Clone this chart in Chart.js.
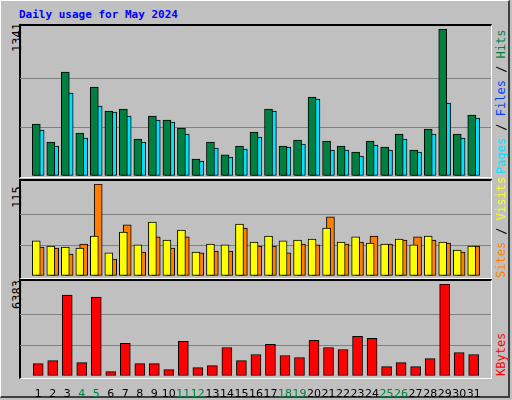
<!DOCTYPE html>
<html><head><meta charset="utf-8">
<script src="https://cdn.jsdelivr.net/npm/chart.js@4/dist/chart.umd.min.js"></script>
<style>
body{margin:0;background:#fff}
#root{position:relative;width:512px;height:400px;background:#c0c0c0;overflow:hidden;font-family:"DejaVu Sans Mono",monospace}
.frame{position:absolute;left:0;top:0;width:510px;height:398px;border-right:2px solid #404040;border-bottom:2px solid #404040;box-sizing:border-box;border-top:1px solid #fff;border-left:1px solid #fff}
.panel{position:absolute;left:19px;width:473px;box-sizing:border-box;border-top:2px solid #000;border-left:2px solid #000;border-right:1px solid #fff;border-bottom:1px solid #fff}
canvas{position:absolute}
.v{position:absolute;transform-origin:0 0;transform:rotate(-90deg);white-space:nowrap;font-size:12px}
#title{position:absolute;left:19px;top:8px;color:#0000ff;font-weight:bold;font-size:11px}
</style></head><body>
<div id="root">
<div class="frame"></div>
<div id="title">Daily usage for May 2024</div>
<div class="panel" style="top:24px;height:154px"></div>
<div class="panel" style="top:179px;height:100px"></div>
<div class="panel" style="top:279px;height:100px"></div>
<div class="v" style="left:10px;top:52px;color:#000">1341</div>
<div class="v" style="left:10px;top:208px;color:#000">115</div>
<div class="v" style="left:10px;top:309px;color:#000">6383</div>
<div class="v" style="left:494px;top:174px"><span style="color:#00e0ff">Pages</span> / <span style="color:#0040ff">Files</span> / <span style="color:#008040">Hits</span></div>
<div class="v" style="left:494px;top:278px"><span style="color:#ff8000">Sites</span> / <span style="color:#ffff00">Visits</span></div>
<div class="v" style="left:494px;top:376px"><span style="color:#ff0000">KBytes</span></div>
<canvas id="c1" style="left:20px;top:29px" width="471" height="147"></canvas>
<canvas id="c2" style="left:20px;top:184px" width="471" height="92"></canvas>
<canvas id="c3" style="left:20px;top:284px" width="471" height="116"></canvas>
</div>
<script>
const days=[1,2,3,4,5,6,7,8,9,10,11,12,13,14,15,16,17,18,19,20,21,22,23,24,25,26,27,28,29,30,31];
const weekend=[4,5,11,12,18,19,25,26];
const hits=[474,310,949,392,812,593,611,337,547,511,438,155,310,192,274,401,611,274,328,720,319,274,219,319,264,383,237,429,1341,383,556];
const files=[420,274,757,347,638,584,547,310,511,492,383,137,255,173,246,356,593,264,292,702,237,237,182,283,237,337,219,383,666,347,529];
const pages=[46,46,210,36,146,18,82,46,36,46,91,18,36,36,36,46,36,27,64,36,91,46,64,64,46,46,36,64,55,46,27];
const visits=[44,37.5,36,35,50,29,55,39,67.5,45,57.5,30,40,39,65,42.5,50,44,45,46,60,42.5,49,41,40,46,39,50,42.5,32.5,37.5];
const sites=[36,35,27.5,40,115,21,64,30,49,35,49,29,31,31,60,37.5,37.5,29,40,39,74,40,42.5,50,40,45,49,45,41,30,37.5];
const kbytes=[862,1072,5614,932,5474,303,2260,862,862,443,2400,583,722,1980,1072,1491,2190,1421,1281,2470,1980,1840,2749,2609,652,932,652,1211,6383,1631,1491];
const maxes={top:1341,mid:115,bot:6383};

function ds(vals,off,color,w){return {data:days.map((d,i)=>({x:d+off,y:vals[i]})),backgroundColor:color,borderColor:'#000',borderWidth:1,barThickness:w,borderSkipped:false,grouped:false};}
function opts(max,showX){return {responsive:false,animation:false,events:[],layout:{padding:0},
 plugins:{legend:{display:false},tooltip:{enabled:false}},
 scales:{x:{type:'linear',min:0.27,max:31.67,display:showX,grid:{display:false},border:{display:false},
   afterBuildTicks:a=>{a.ticks=days.map(v=>({value:v}));},
   afterFit:a=>{a.height=showX?24:0;},
   ticks:{autoSkip:false,maxRotation:0,padding:4,font:{family:'DejaVu Sans',size:11},
     color:c=>weekend.includes(c.tick.value)?'#008040':'#000',callback:v=>String(v)}},
  y:{min:0,max:max,afterFit:a=>{a.width=0;},ticks:{display:false,stepSize:max/3},border:{display:false},
   grid:{color:c=>c.tick.value>0&&c.tick.value<max-1e-6?'#808080':'rgba(0,0,0,0)',lineWidth:1,drawTicks:false}}}};}
new Chart(document.getElementById('c1'),{type:'bar',data:{datasets:[ds(hits,-0.133,'#008040',8),ds(files,0.133,'#00e0ff',8),ds(pages,-0.2,'#0040ff',2)]},options:opts(maxes.top,false)});
new Chart(document.getElementById('c2'),{type:'bar',data:{datasets:[ds(visits,-0.133,'#ffff00',8),ds(sites,0.133,'#ff8000',8)]},options:opts(maxes.mid,false)});
new Chart(document.getElementById('c3'),{type:'bar',data:{datasets:[ds(kbytes,0,'#ff0000',10)]},options:opts(maxes.bot,true)});
</script></body></html>
